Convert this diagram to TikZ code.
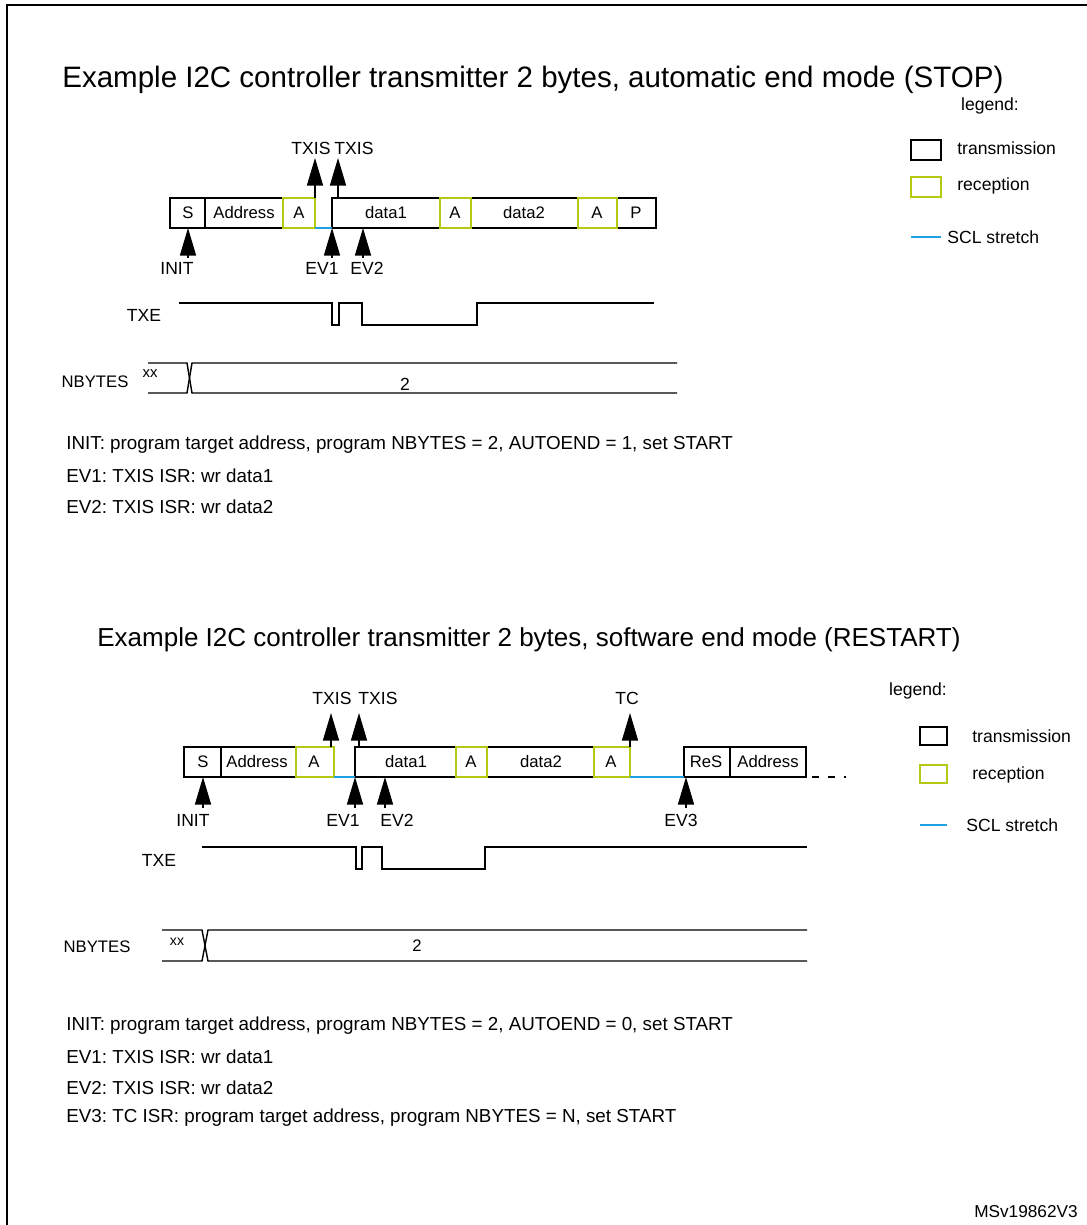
\documentclass[tikz,border=0pt]{standalone}
\usepackage{fontspec}
\setmainfont{Liberation Sans}
\usetikzlibrary{arrows.meta}
\definecolor{rxgreen}{RGB}{180,200,20}
\definecolor{sclblue}{RGB}{30,160,225}
\frenchspacing
\tikzset{
  tx/.style={draw=black,line width=0.8pt},
  rx/.style={draw=rxgreen,line width=1.3pt},
  scl/.style={draw=sclblue,line width=1pt},
  flag/.style={-{Triangle[length=0.55cm,width=0.32cm]},line width=0.8pt},
  wave/.style={line width=0.8pt},
  lbl/.style={font=\fontsize{10}{12}\selectfont,inner sep=0pt},
  cell/.style={font=\fontsize{9.5}{11}\selectfont,inner sep=0pt},
  note/.style={font=\fontsize{10.7}{12}\selectfont,anchor=west,inner sep=0pt},
  ttl/.style={anchor=west,inner sep=0pt}
}
\begin{document}
\begin{tikzpicture}[x=0.02cm,y=-0.02cm]
\useasboundingbox (0,0) rectangle (1087,1225);
\draw[line width=0.9pt] (7,1230) -- (7,5) -- (1095,5);

% ---------- automatic end mode ----------
\node[ttl,font=\fontsize{16.8}{20}\selectfont] (t1) at (62,80) {Example I2C controller transmitter 2 bytes, automatic end mode (STOP)};

% legend
\node[lbl] (lg1) at (990,106) {legend:};
\draw[tx] (911,140) rectangle (941,160);
\node[lbl,anchor=west] (lgt1) at (957,148) {transmission};
\draw[rx] (911,177) rectangle (941,197);
\node[lbl,anchor=west] (lgr1) at (957,186) {reception};
\draw[scl] (911,237) -- (941,237);
\node[lbl,anchor=west] (lgs1) at (947,237) {SCL stretch};

% frame
\draw[tx] (170,198) rectangle (205,228);
\draw[tx] (205,198) rectangle (283,228);
\draw[tx] (332,198) rectangle (440,228);
\draw[tx] (471,198) rectangle (578,228);
\draw[tx] (617,198) rectangle (656,228);
\draw[rx] (283,198) rectangle (315,228);
\draw[rx] (440,198) rectangle (471,228);
\draw[rx] (578,198) rectangle (617,228);
\draw[scl] (315,228) -- (332,228);
\node[cell] (s1) at (188,213) {S};
\node[cell] (ad1) at (244,213) {Address};
\node[cell] (a11) at (299,213) {A};
\node[cell] (d11) at (386,213) {data1};
\node[cell] (a12) at (455,213) {A};
\node[cell] (d12) at (524,213) {data2};
\node[cell] (a13) at (597,213) {A};
\node[cell] (p1) at (636,213) {P};

% flags
\node[lbl] (txis11) at (311,148) {TXIS};
\node[lbl] (txis12) at (354,148) {TXIS};
\coordinate (f11) at (315,198);
\coordinate (f12) at (338,198);
\draw[flag] (f11) -- (315,158);
\draw[flag] (f12) -- (338,158);

\node[lbl] (init1) at (177,268) {INIT};
\node[lbl] (ev11) at (322,268) {EV1};
\node[lbl] (ev21) at (367,268) {EV2};
\draw[flag] (188,258) -- (188,228);
\draw[flag] (332,258) -- (332,228);
\draw[flag] (363,258) -- (363,228);

% TXE
\node[lbl] (txe1) at (144,315) {TXE};
\draw[wave] (179,303) -- (332,303) -- (332,325) -- (339,325) -- (339,303)
  -- (362,303) -- (362,325) -- (477,325) -- (477,303) -- (654,303);

% NBYTES
\node[cell] (nb1) at (95,382) {NBYTES};
\draw[wave] (148,363) -- (187,363) -- (192,393) -- (677,393);
\draw[wave] (148,393) -- (187,393) -- (192,363) -- (677,363);
\node[cell,font=\fontsize{8.5}{9}\selectfont] (xx1) at (150,374) {xx};
\node[lbl] (n21) at (405,384) {2};

\node[note] (i1) at (66,445) {INIT: program target address, program NBYTES = 2, AUTOEND = 1, set START};
\node[note] (e11) at (66,476) {EV1: TXIS ISR: wr data1};
\node[note] (e21) at (66,507) {EV2: TXIS ISR: wr data2};

% ---------- software end mode ----------
\node[ttl,font=\fontsize{14.8}{18}\selectfont] (t2) at (97,640) {Example I2C controller transmitter 2 bytes, software end mode (RESTART)};

% legend
\node[lbl] (lg2) at (918,691) {legend:};
\draw[tx] (920,727) rectangle (947,745);
\node[lbl,anchor=west] (lgt2) at (972,736) {transmission};
\draw[rx] (920,765) rectangle (947,783);
\node[lbl,anchor=west] (lgr2) at (972,775) {reception};
\draw[scl] (920,825) -- (947,825);
\node[lbl,anchor=west] (lgs2) at (966,825) {SCL stretch};

% frame
\draw[tx] (184,747) rectangle (221,777);
\draw[tx] (221,747) rectangle (296,777);
\draw[tx] (355,747) rectangle (456,777);
\draw[tx] (487,747) rectangle (594,777);
\draw[tx] (684,747) rectangle (730,777);
\draw[tx] (730,747) rectangle (806,777);
\draw[rx] (296,747) rectangle (334,777);
\draw[rx] (456,747) rectangle (487,777);
\draw[rx] (594,747) rectangle (630,777);
\draw[scl] (334,777) -- (355,777);
\draw[scl] (630,777) -- (684,777);
\draw[line width=0.9pt,dash pattern=on 4pt off 5pt] (812,777) -- (846,777);
\node[cell] (s2) at (203,762) {S};
\node[cell] (ad2) at (257,762) {Address};
\node[cell] (a21) at (314,762) {A};
\node[cell] (d21) at (406,762) {data1};
\node[cell] (a22) at (471,762) {A};
\node[cell] (d22) at (541,762) {data2};
\node[cell] (a23) at (611,762) {A};
\node[cell] (res2) at (706,762) {ReS};
\node[cell] (ad22) at (768,762) {Address};

% flags
\node[lbl] (txis21) at (332,698) {TXIS};
\node[lbl] (txis22) at (378,698) {TXIS};
\node[lbl] (tc2) at (627,698) {TC};
\draw[flag] (331,747) -- (331,713);
\draw[flag] (359,747) -- (359,713);
\draw[flag] (630,747) -- (630,713);

\node[lbl] (init2) at (193,820) {INIT};
\node[lbl] (ev12) at (343,820) {EV1};
\node[lbl] (ev22) at (397,820) {EV2};
\node[lbl] (ev32) at (681,820) {EV3};
\draw[flag] (203,808) -- (203,777);
\draw[flag] (355,808) -- (355,777);
\draw[flag] (385,808) -- (385,777);
\draw[flag] (686,808) -- (686,777);

% TXE
\node[lbl] (txe2) at (159,860) {TXE};
\draw[wave] (202,847) -- (356,847) -- (356,869) -- (362,869) -- (362,847)
  -- (382,847) -- (382,869) -- (485,869) -- (485,847) -- (807,847);

% NBYTES
\node[cell] (nb2) at (97,947) {NBYTES};
\draw[wave] (162,930) -- (202,930) -- (208,961) -- (807,961);
\draw[wave] (162,961) -- (202,961) -- (208,930) -- (807,930);
\node[cell,font=\fontsize{8}{9}\selectfont] (xx2) at (177,942) {xx};
\node[cell] (n22) at (417,946) {2};

\node[note] (i2) at (66,1026) {INIT: program target  address, program NBYTES = 2, AUTOEND = 0, set START};
\node[note] (e12) at (66,1057) {EV1: TXIS ISR: wr data1};
\node[note] (e22) at (66,1088) {EV2: TXIS ISR: wr data2};
\node[note] (e32) at (66,1118) {EV3: TC ISR: program target address, program NBYTES = N, set START};

\node[lbl,font=\fontsize{9.8}{12}\selectfont,anchor=east] (ref) at (1078,1212) {MSv19862V3};
\end{tikzpicture}
\end{document}
